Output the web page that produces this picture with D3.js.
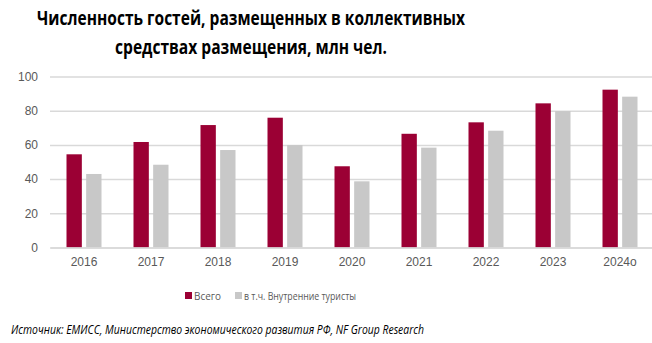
<!DOCTYPE html>
<html><head><meta charset="utf-8">
<script src="https://cdn.jsdelivr.net/npm/d3@7"></script>
<style>body{margin:0;background:#fff;} svg{display:block;}</style>
</head><body>
<svg id="c" width="652" height="343"></svg>
<script>
const categories = ["2016","2017","2018","2019","2020","2021","2022","2023","2024о"];
const seriesNames = ["Всего","в т.ч. Внутренние туристы"];
const totalValues = [54.5, 61.7, 71.6, 75.9, 47.5, 66.5, 73.2, 84.3, 92.3];
const domesticValues = [43.0, 48.4, 57.0, 59.9, 38.7, 58.4, 68.3, 79.8, 88.2];
const yTicks = [0, 20, 40, 60, 80, 100];
const colors = ["#9B0034", "#C8C8C8"];

const svg = d3.select("#c");
const x0 = d3.scaleBand().domain(categories).range([50.5, 653.5]).paddingInner(0).paddingOuter(0);
const groupW = 35;
const x1 = d3.scaleBand().domain(seriesNames).range([0, groupW]).paddingInner(0.22);
const y = d3.scaleLinear().domain([0, 100]).range([247.5, 76.5]);

// title
const title = svg.append("g").attr("font-family", "'Open Sans', sans-serif").attr("font-weight", "bold")
  .attr("font-size", 19).attr("fill", "#000").attr("text-anchor", "middle");
title.append("text").attr("x", 251).attr("y", 25).attr("textLength", 428).attr("lengthAdjust", "spacingAndGlyphs")
  .text("Численность гостей, размещенных в коллективных");
title.append("text").attr("x", 251).attr("y", 54).attr("textLength", 272).attr("lengthAdjust", "spacingAndGlyphs")
  .text("средствах размещения, млн чел.");

// y axis grid
const yAxis = d3.axisLeft(y).tickValues(yTicks).tickSize(-(652 - 50)).tickPadding(12);
const gy = svg.append("g").attr("transform", "translate(50,0)").call(yAxis);
gy.select(".domain").remove();
gy.selectAll(".tick line").attr("stroke", "#D9D9D9").attr("stroke-width", 1.5);
gy.selectAll(".tick text").attr("fill", "#595959").attr("font-size", 12).attr("font-family", "'Liberation Sans', Arial, sans-serif");

// bars
const data = categories.map((c, i) => ({c, vals: [totalValues[i], domesticValues[i]]}));
const groups = svg.append("g").selectAll("g").data(data).join("g")
  .attr("transform", d => `translate(${x0(d.c) + (x0.bandwidth() - groupW) / 2},0)`);
groups.selectAll("rect").data(d => d.vals.map((v, j) => ({name: seriesNames[j], v, j}))).join("rect")
  .attr("x", d => x1(d.name)).attr("width", x1.bandwidth())
  .attr("y", d => y(d.v)).attr("height", d => y(0) - y(d.v))
  .attr("fill", d => colors[d.j]);

// x axis
const xAxis = d3.axisBottom(x0).tickSize(0).tickPadding(10);
const gx = svg.append("g").attr("transform", `translate(0,${y(0)})`).call(xAxis);
gx.select(".domain").attr("stroke", "#D9D9D9").attr("stroke-width", 1.5);
gx.selectAll(".tick text").attr("fill", "#595959").attr("font-size", 12).attr("font-family", "'Liberation Sans', Arial, sans-serif");

// legend
const leg = svg.append("g").attr("font-family", "'Open Sans', sans-serif").attr("font-size", 11.5).attr("fill", "#595959");
const legItems = [{x: 185}, {x: 235}];
legItems.forEach((it, i) => {
  leg.append("rect").attr("x", it.x).attr("y", 292).attr("width", 7).attr("height", 7).attr("fill", colors[i]);
  leg.append("text").attr("x", it.x + 9).attr("y", 300).attr("textLength", i === 0 ? 27 : 112)
    .attr("lengthAdjust", "spacingAndGlyphs").text(seriesNames[i]);
});

// source
svg.append("text").attr("x", 11).attr("y", 334).attr("font-family", "'Open Sans', sans-serif")
  .attr("font-style", "italic").attr("font-size", 12.5).attr("fill", "#000")
  .attr("textLength", 413).attr("lengthAdjust", "spacingAndGlyphs")
  .text("Источник: ЕМИСС, Министерство экономического  развития  РФ, NF Group Research");
</script>
</body></html>
